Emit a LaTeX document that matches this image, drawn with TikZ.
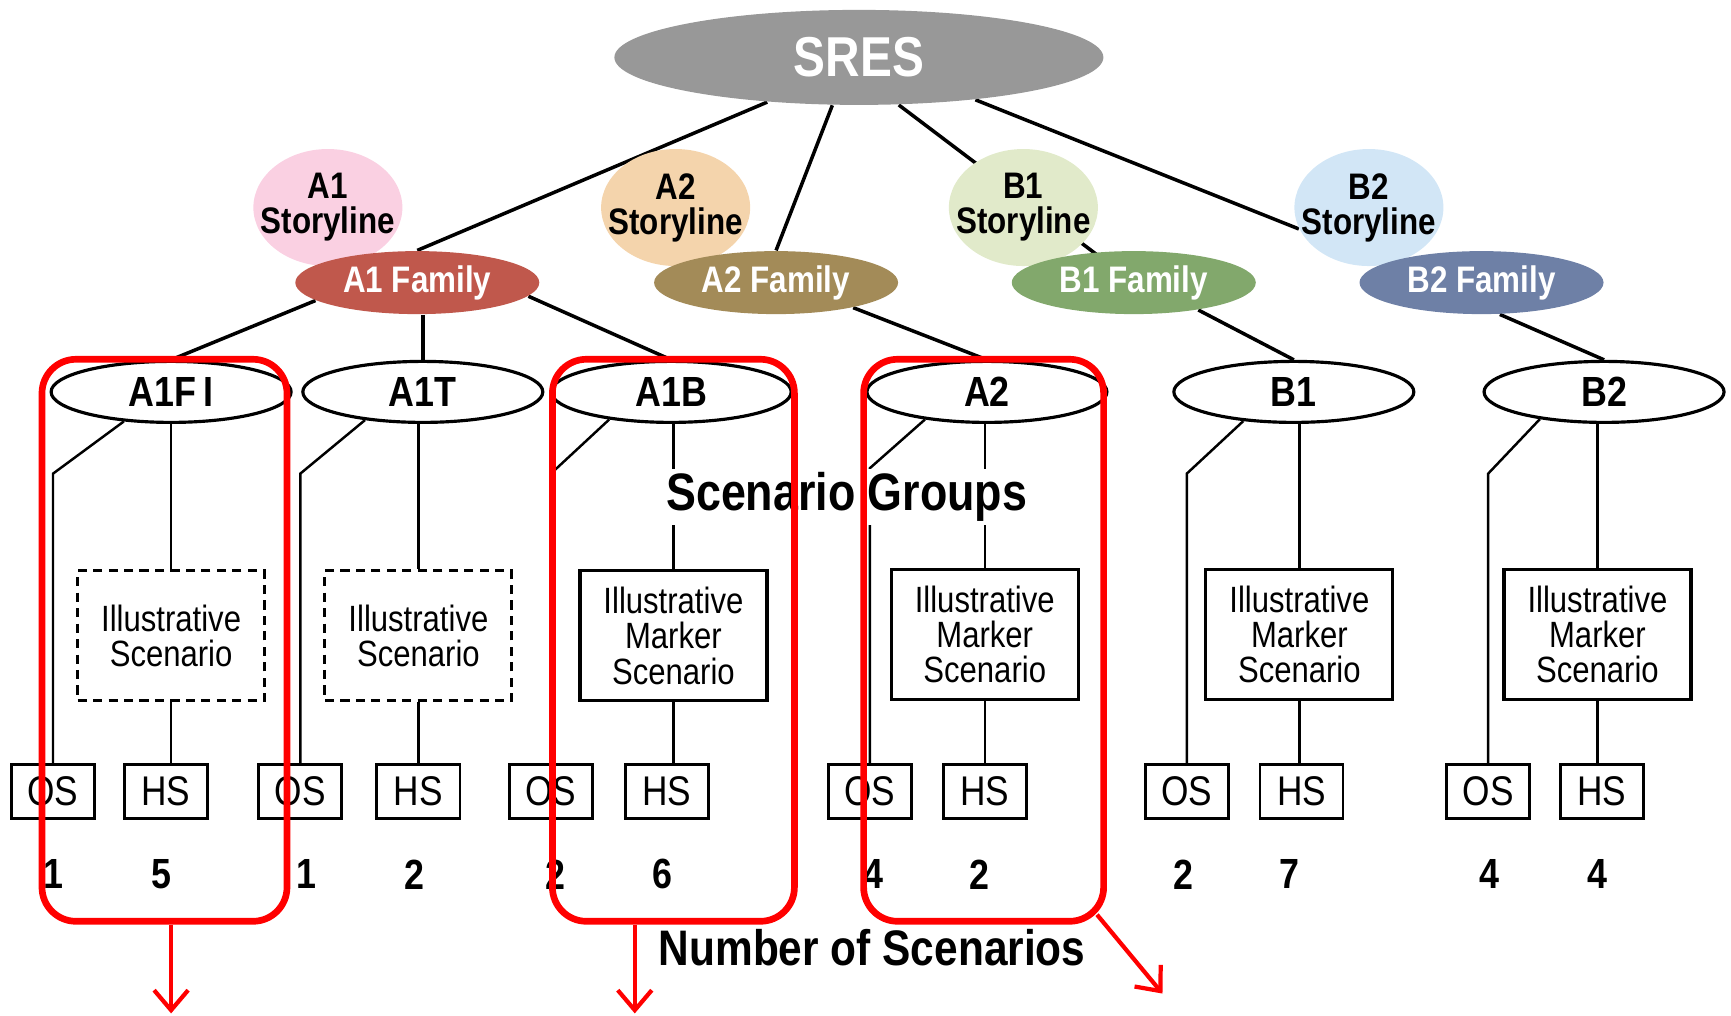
\documentclass[tikz,border=0pt]{standalone}
\usepackage{fontspec}
\setmainfont{Liberation Sans}[FakeStretch=0.85]
\usetikzlibrary{shapes.geometric,calc,backgrounds,arrows.meta}

\definecolor{sresgray}{RGB}{152,152,152}
\definecolor{aoneslcol}{RGB}{250,208,226}
\definecolor{atwoslcol}{RGB}{244,212,172}
\definecolor{boneslcol}{RGB}{225,234,202}
\definecolor{btwoslcol}{RGB}{210,230,246}
\definecolor{aonefamcol}{RGB}{192,88,76}
\definecolor{atwofamcol}{RGB}{163,139,88}
\definecolor{bonefamcol}{RGB}{130,168,108}
\definecolor{btwofamcol}{RGB}{110,128,166}

\tikzset{
	sres/.style={ellipse, fill=sresgray, minimum width=48.9mm, minimum height=9.5mm, inner sep=0pt, text=white, font=\bfseries\fontsize{16}{18}\selectfont},
	storyline/.style={ellipse, minimum width=14.9mm, minimum height=11.7mm, inner xsep=-1.6mm, inner ysep=0pt, align=center, font=\bfseries\fontsize{10.5}{10}\selectfont},
	family/.style={ellipse, minimum width=24.4mm, minimum height=6.3mm, inner sep=0pt, text=white, font=\bfseries\fontsize{10.5}{12}\selectfont},
	group/.style={ellipse, draw, line width=0.9pt, fill=white, minimum width=24mm, minimum height=6.1mm, inner sep=0pt, font=\bfseries\fontsize{12}{13}\selectfont},
	illus/.style={rectangle, draw, line width=0.9pt, fill=white, minimum width=18.7mm, minimum height=13mm, inner sep=0pt, align=center, font=\fontsize{10.4}{10}\selectfont},
	illusdash/.style={illus, dash pattern=on 2.6pt off 1.8pt},
	runbox/.style={rectangle, draw, line width=0.8pt, fill=white, minimum width=8.3mm, minimum height=5.4mm, inner sep=0pt, font=\fontsize{11.8}{12}\selectfont},
	count/.style={inner sep=0pt, font=\bfseries\fontsize{12}{13}\selectfont},
	caption/.style={inner sep=1pt, font=\bfseries\fontsize{15}{16}\selectfont},
	link/.style={line width=1pt},
	thinlink/.style={line width=0.7pt},
	redframe/.style={draw=red, line width=1.9pt, rounded corners=3.4mm, minimum height=56.2mm},
	redarrow/.style={draw=red, line width=1.2pt, -{Straight Barb[length=2mm,width=3.4mm]}},
}

\begin{document}
\begin{tikzpicture}[x=0.1104mm, y=-0.1104mm]
	%%%%% START %%%%%
	\useasboundingbox (0,0) rectangle (1568,920);

	\node[sres] (sres) at (778, 52) {SRES};

	% storylines and families
	\node[storyline, fill=aoneslcol] (a1sl) at (297, 188) {A1\\Storyline};
	\node[storyline, fill=atwoslcol] (a2sl) at (612, 188) {A2\\Storyline};
	\node[storyline, fill=boneslcol] (b1sl) at (927, 188) {B1\\Storyline};
	\node[storyline, fill=btwoslcol] (b2sl) at (1240, 188) {B2\\Storyline};

	\node[family, fill=aonefamcol] (a1fam) at (378, 256) {A1 Family};
	\node[family, fill=atwofamcol] (a2fam) at (703, 256) {A2 Family};
	\node[family, fill=bonefamcol] (b1fam) at (1027, 256) {B1 Family};
	\node[family, fill=btwofamcol] (b2fam) at (1342, 256) {B2 Family};

	% scenario groups
	\node[group] (a1fi) at (155, 355) {A1F\,I};
	\node[group] (a1t) at (383, 355) {A1T};
	\node[group] (a1b) at (608, 355) {A1B};
	\node[group] (a2) at (894, 355) {A2};
	\node[group] (b1) at (1172, 355) {B1};
	\node[group] (b2) at (1453, 355) {B2};

	\node[illusdash] (a1fiIS) at (155, 576) {Illustrative\\Scenario};
	\node[illusdash] (a1tIS) at (379, 576) {Illustrative\\Scenario};
	\node[illus] (a1bIS) at (610, 576) {Illustrative\\Marker\\Scenario};
	\node[illus] (a2IS) at (892, 575) {Illustrative\\Marker\\Scenario};
	\node[illus] (b1IS) at (1177, 575) {Illustrative\\Marker\\Scenario};
	\node[illus] (b2IS) at (1447, 575) {Illustrative\\Marker\\Scenario};

	\node[runbox] (a1fiOS) at (48, 717) {OS};
	\node[runbox] (a1fiHS) at (150, 717) {HS};
	\node[runbox] (a1tOS) at (272, 717) {OS};
	\node[runbox] (a1tHS) at (379, 717) {HS};
	\node[runbox] (a1bOS) at (499, 717) {OS};
	\node[runbox] (a1bHS) at (604, 717) {HS};
	\node[runbox] (a2OS) at (788, 717) {OS};
	\node[runbox] (a2HS) at (892, 717) {HS};
	\node[runbox] (b1OS) at (1075, 717) {OS};
	\node[runbox] (b1HS) at (1179, 717) {HS};
	\node[runbox] (b2OS) at (1348, 717) {OS};
	\node[runbox] (b2HS) at (1451, 717) {HS};

	\node[count] (a1fiNos) at (48, 792) {1};
	\node[count] (a1fiNhs) at (146, 792) {5};
	\node[count] (a1tNos) at (278, 792) {1};
	\node[count] (a1tNhs) at (375, 792) {2};
	\node[count] (a1bNos) at (503, 792) {2};
	\node[count] (a1bNhs) at (600, 792) {6};
	\node[count] (a2Nos) at (791, 792) {4};
	\node[count] (a2Nhs) at (887, 792) {2};
	\node[count] (b1Nos) at (1072, 792) {2};
	\node[count] (b1Nhs) at (1168, 792) {7};
	\node[count] (b2Nos) at (1349, 792) {4};
	\node[count] (b2Nhs) at (1447, 792) {4};

	\node[caption, fill=white] (grouplbl) at (767, 450) {Scenario Groups};
	\node[caption, font=\bfseries\fontsize{14.2}{16}\selectfont] (countlbl) at (790, 858) {Number of Scenarios};

	\begin{pgfonlayer}{background}
		\draw[link] (sres.206) -- (a1fam.north);
		\draw[link] (sres.241) -- (a2fam.north);
		\draw[link] (sres.310) -- (b1fam.center);
		\draw[link] (sres.340) -- (b2sl.197);

		\draw[link] (a1fam.190) -- (a1fi.north);
		\draw[link] (a1fam.south -| a1t.north) -- (a1t.north);
		\draw[link] (a1fam.353) -- (a1b.north);
		\draw[link] (a2fam.342) -- (a2.north);
		\draw[link] (b1fam.337) -- (b1.north);
		\draw[link] (b2fam.300) -- (b2.north);

		\draw[thinlink] (a1fi.212) -- ($(a1fiOS.north |- a1fi.south)+(0,45)$) -- (a1fiOS.north);
		\draw[thinlink] (a1t.206) -- ($(a1tOS.north |- a1t.south)+(0,45)$) -- (a1tOS.north);
		\draw[thinlink] (a1b.204) -- ($(a1bOS.north |- a1b.south)+(0,45)$) -- (a1bOS.north);
		\draw[thinlink] (a2.204) -- ($(a2OS.north |- a2.south)+(0,40)$) -- (a2OS.north);
		\draw[thinlink] (b1.210) -- ($(b1OS.north |- b1.south)+(0,45)$) -- (b1OS.north);
		\draw[thinlink] (b2.203) -- ($(b2OS.north |- b2.south)+(0,45)$) -- (b2OS.north);

		\draw[thinlink] (a1fiIS.north |- a1fi.south) -- (a1fiIS.north);
		\draw[thinlink] (a1tIS.north |- a1t.south) -- (a1tIS.north);
		\draw[thinlink] (a1bIS.north |- a1b.south) -- (a1bIS.north);
		\draw[thinlink] (a2IS.north |- a2.south) -- (a2IS.north);
		\draw[thinlink] (b1IS.north |- b1.south) -- (b1IS.north);
		\draw[thinlink] (b2IS.north |- b2.south) -- (b2IS.north);

		\draw[thinlink] (a1fiIS.south) -- (a1fiHS.north -| a1fiIS.south);
		\draw[thinlink] (a1tIS.south) -- (a1tHS.north -| a1tIS.south);
		\draw[thinlink] (a1bIS.south) -- (a1bHS.north -| a1bIS.south);
		\draw[thinlink] (a2IS.south) -- (a2HS.north -| a2IS.south);
		\draw[thinlink] (b1IS.south) -- (b1HS.north -| b1IS.south);
		\draw[thinlink] (b2IS.south) -- (b2HS.north -| b2IS.south);
	\end{pgfonlayer}

	% highlighted groups
	\node[redframe, minimum width=24.5mm] (frameA) at (149, 580) {};
	\node[redframe, minimum width=24.2mm] (frameB) at (610, 580) {};
	\node[redframe, minimum width=24mm] (frameC) at (891, 580) {};

	\coordinate (tipA) at (155, 918);
	\coordinate (tipB) at (575, 918);
	\coordinate (tipC) at (1053, 900);
	\draw[redarrow] (tipA |- frameA.south) -- (tipA);
	\draw[redarrow] (tipB |- frameB.south) -- (tipB);
	\draw[redarrow] ($(frameC.south east)+(-9,-9)$) -- (tipC);

	%%%%% END %%%%%
\end{tikzpicture}
\end{document}
